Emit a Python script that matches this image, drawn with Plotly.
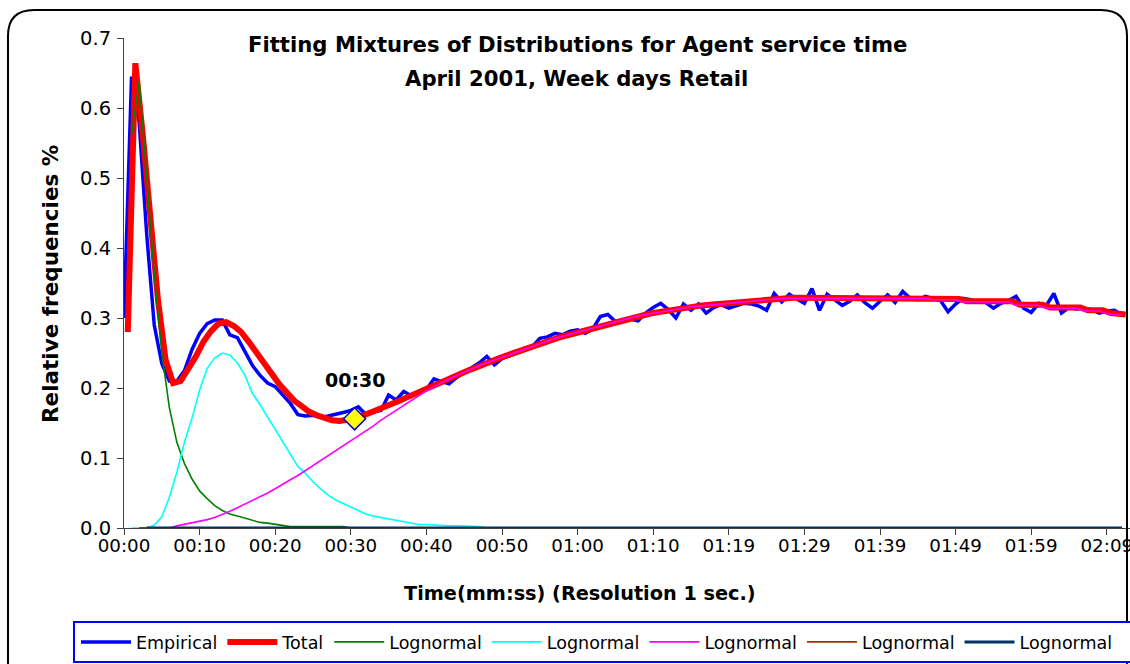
"""Mixture-of-lognormals fit for agent service time (Plotly recreation)."""

import plotly.graph_objects as go

# ---- data -------------------------------------------------------------
# one category per second of service time
seconds = list(range(133))

tick_pos = list(range(0, 131, 10))
tick_text = ["00:00", "00:10", "00:20", "00:30", "00:40", "00:50", "01:00",
             "01:10", "01:19", "01:29", "01:39", "01:49", "01:59", "02:09"]

empirical = [
    0.300, 0.645, 0.580, 0.420, 0.290, 0.235, 0.210, 0.210, 0.225, 0.255,
    0.278, 0.292, 0.297, 0.297, 0.276, 0.272, 0.252, 0.232, 0.218, 0.207,
    0.202, 0.190, 0.178, 0.162, 0.160, 0.161, 0.158, 0.160, 0.162, 0.165,
    0.168, 0.173, 0.162, 0.166, 0.168, 0.190, 0.183, 0.195, 0.189, 0.192,
    0.198, 0.213, 0.209, 0.206, 0.215, 0.222, 0.230, 0.236, 0.245, 0.233,
    0.242, 0.246, 0.249, 0.254, 0.259, 0.271, 0.273, 0.278, 0.276, 0.281,
    0.283, 0.278, 0.284, 0.302, 0.305, 0.295, 0.296, 0.298, 0.296, 0.307,
    0.315, 0.321, 0.312, 0.300, 0.320, 0.311, 0.320, 0.307, 0.315, 0.319,
    0.314, 0.318, 0.321, 0.320, 0.317, 0.311, 0.335, 0.323, 0.334, 0.327,
    0.321, 0.342, 0.311, 0.334, 0.326, 0.318, 0.324, 0.333, 0.322, 0.314,
    0.324, 0.333, 0.322, 0.338, 0.328, 0.326, 0.331, 0.328, 0.325, 0.309,
    0.320, 0.328, 0.326, 0.325, 0.322, 0.314, 0.321, 0.325, 0.331, 0.314,
    0.308, 0.321, 0.318, 0.335, 0.307, 0.315, 0.313, 0.314, 0.312, 0.307,
    0.310, 0.311, 0.305,
]

# fitted total is tabulated at mid-second points
total = [
    0.280, 0.664, 0.560, 0.430, 0.325, 0.240, 0.207, 0.210, 0.226, 0.245,
    0.266, 0.281, 0.292, 0.294, 0.289, 0.280, 0.266, 0.251, 0.235, 0.219,
    0.206, 0.194, 0.182, 0.174, 0.166, 0.161, 0.157, 0.154, 0.153, 0.154,
    0.156, 0.160, 0.164, 0.168, 0.173, 0.177, 0.182, 0.187, 0.192, 0.197,
    0.201, 0.206, 0.211, 0.216, 0.220, 0.225, 0.229, 0.234, 0.238, 0.242,
    0.246, 0.250, 0.254, 0.258, 0.262, 0.265, 0.269, 0.272, 0.275, 0.278,
    0.281, 0.284, 0.287, 0.290, 0.292, 0.295, 0.298, 0.301, 0.304, 0.306,
    0.308, 0.310, 0.312, 0.313, 0.315, 0.316, 0.318, 0.319, 0.320, 0.322,
    0.323, 0.324, 0.325, 0.326, 0.327, 0.328, 0.329, 0.329, 0.329, 0.329,
    0.329, 0.329, 0.329, 0.329, 0.329, 0.329, 0.329, 0.329, 0.329, 0.329,
    0.329, 0.329, 0.329, 0.329, 0.329, 0.329, 0.329, 0.327, 0.327, 0.327,
    0.327, 0.324, 0.324, 0.324, 0.324, 0.324, 0.324, 0.324, 0.319, 0.319,
    0.319, 0.319, 0.315, 0.315, 0.315, 0.315, 0.315, 0.311, 0.311, 0.311,
    0.307, 0.306, 0.305,
]

logn_1 = [
    None, 0.561, 0.638, 0.503, 0.364, 0.250, 0.172, 0.122, 0.092, 0.070,
    0.053, 0.042, 0.032, 0.025, 0.020, 0.017, 0.014, 0.011, 0.008, 0.007,
    0.005, 0.004, 0.002, 0.002, 0.002, 0.002, 0.002, 0.002, 0.002, 0.002,
    0.000,
]

logn_2 = [
    None, 0.000, 0.000, 0.000, 0.004, 0.016, 0.044, 0.080, 0.123, 0.157,
    0.197, 0.228, 0.243, 0.250, 0.247, 0.236, 0.218, 0.192, 0.176, 0.158,
    0.140, 0.122, 0.104, 0.088, 0.078, 0.066, 0.056, 0.047, 0.040, 0.035,
    0.030, 0.025, 0.020, 0.017, 0.015, 0.013, 0.011, 0.009, 0.006, 0.005,
    0.005, 0.004, 0.003, 0.003, 0.003, 0.003, 0.003, 0.002, 0.000,
]

logn_3 = [
    None, None, 0.000, 0.000, 0.000, 0.000, 0.000, 0.003, 0.005, 0.008,
    0.010, 0.012, 0.015, 0.019, 0.024, 0.029, 0.034, 0.040, 0.045, 0.050,
    0.056, 0.063, 0.069, 0.075, 0.082, 0.089, 0.096, 0.103, 0.111, 0.118,
    0.124, 0.131, 0.138, 0.146, 0.154, 0.161, 0.169, 0.176, 0.183, 0.189,
    0.196, 0.202, 0.208, 0.213, 0.218, 0.223, 0.228, 0.232, 0.236, 0.240,
    0.244, 0.248, 0.252, 0.256, 0.260, 0.264, 0.267, 0.271, 0.274, 0.277,
    0.280, 0.283, 0.286, 0.288, 0.291, 0.294, 0.297, 0.300, 0.303, 0.305,
    0.307, 0.309, 0.311, 0.313, 0.314, 0.316, 0.317, 0.318, 0.320, 0.321,
    0.322, 0.323, 0.324, 0.325, 0.326, 0.327, 0.328, 0.328, 0.328, 0.328,
    0.328, 0.328, 0.328, 0.328, 0.328, 0.328, 0.328, 0.328, 0.328, 0.328,
    0.328, 0.328, 0.328, 0.328, 0.328, 0.328, 0.328, 0.326, 0.326, 0.326,
    0.326, 0.323, 0.323, 0.323, 0.323, 0.323, 0.323, 0.323, 0.318, 0.318,
    0.318, 0.318, 0.314, 0.314, 0.314, 0.314, 0.314, 0.310, 0.310, 0.310,
    0.306, 0.305, 0.304,
]

logn_4 = [None, None] + [0.0] * 131
logn_5 = [None, None, None] + [0.0] * 130

marked_idx = 30          # highlighted point 00:30 on the total curve
marked_label = "00:30"

# ---- geometry helpers (pixel -> paper) --------------------------------
W, H = 1130, 664
ML, MR, MT, MB = 124, 0, 38, 136
PW, PH = W - ML - MR, H - MT - MB


def px(x):
    return (x - ML) / PW


def py(y):
    return (H - MB - y) / PH


FONT = "DejaVu Sans"
total_x = [s + 0.5 for s in seconds]

fig = go.Figure()
fig.add_trace(go.Scatter(x=seconds, y=empirical, name="Empirical", mode="lines",
                         line=dict(color="#0000FF", width=3.5)))
fig.add_trace(go.Scatter(x=total_x, y=total, name="Total", mode="lines",
                         line=dict(color="#FF0000", width=6)))
for vals, color, width in [(logn_1, "#008000", 1.6), (logn_2, "#00FFFF", 1.6),
                           (logn_3, "#FF00FF", 1.6), (logn_4, "#993300", 1.8),
                           (logn_5, "#003366", 3)]:
    fig.add_trace(go.Scatter(x=seconds[:len(vals)], y=vals, name="Lognormal",
                             mode="lines", connectgaps=False,
                             line=dict(color=color, width=width)))

fig.add_trace(go.Scatter(
    x=[total_x[marked_idx]], y=[total[marked_idx]], mode="markers",
    showlegend=False,
    marker=dict(symbol="diamond", size=17, color="#FFFF00",
                line=dict(color="#0000CC", width=1.5)),
))
fig.add_annotation(x=total_x[marked_idx], y=total[marked_idx], text=f"<b>{marked_label}</b>",
                   showarrow=False, yshift=39, xanchor="center", yanchor="middle",
                   font=dict(family=FONT, size=19, color="black"))


def label(x, y, text, size, angle=0):
    fig.add_annotation(xref="paper", yref="paper", x=px(x), y=py(y), text=text,
                       textangle=angle, showarrow=False, xanchor="center",
                       yanchor="middle", font=dict(family=FONT, size=size, color="black"))


label(577, 45, "<b>Fitting Mixtures of Distributions for Agent service time</b>", 21.2)
label(576, 78, "<b>April 2001, Week days Retail</b>", 21.2)
label(50, 284, "<b>Relative frequencies %</b>", 21.5, angle=-90)
label(580, 593, "<b>Time(mm:ss) (Resolution 1 sec.)</b>", 19.3)

# outer rounded frame and legend box
r = 26
frame = (f"M {px(8)},{py(H + 5)} L {px(8)},{py(10 + r)} "
         f"Q {px(8)},{py(10)} {px(8 + r)},{py(10)} "
         f"L {px(1127 - r)},{py(10)} Q {px(1127)},{py(10)} {px(1127)},{py(10 + r)} "
         f"L {px(1127)},{py(H + 5)}")
fig.add_shape(type="path", xref="paper", yref="paper", path=frame,
              line=dict(color="black", width=2))
fig.add_shape(type="rect", xref="paper", yref="paper",
              x0=px(74), x1=px(1145), y0=py(622), y1=py(662),
              line=dict(color="#0000FF", width=2), fillcolor="white")

fig.update_xaxes(range=[0, PW / 7.56], tickmode="array", tickvals=tick_pos,
                 ticktext=tick_text, ticks="outside", ticklen=6, tickcolor="#404040",
                 showline=True, linecolor="#404040", linewidth=1, showgrid=False,
                 zeroline=False, layer="below traces", automargin=False,
                 ticklabeloverflow="allow", ticklabelstandoff=-5,
                 tickfont=dict(family=FONT, size=18.3, color="black"))
fig.update_yaxes(range=[0, 0.7], dtick=0.1, tickformat=".1f", ticks="outside",
                 ticklen=6, tickcolor="#404040", showline=True, linecolor="#404040",
                 linewidth=1, showgrid=False, zeroline=False, automargin=False,
                 ticklabelstandoff=2,
                 tickfont=dict(family=FONT, size=19.5, color="black"))

fig.update_layout(
    width=W, height=H,
    margin=dict(l=ML, r=MR, t=MT, b=MB, pad=0),
    paper_bgcolor="white", plot_bgcolor="white",
    showlegend=True,
    legend=dict(orientation="h", x=px(76), xanchor="left", y=py(642), yanchor="middle",
                bgcolor="rgba(0,0,0,0)", borderwidth=0, itemwidth=50,
                font=dict(family=FONT, size=17.5, color="black")),
)

# drop the browser's default 8px body margin so the figure sits at the page origin
fig.write_html("out.html", config={"displayModeBar": False},
               post_script="document.body.style.margin='0';")
